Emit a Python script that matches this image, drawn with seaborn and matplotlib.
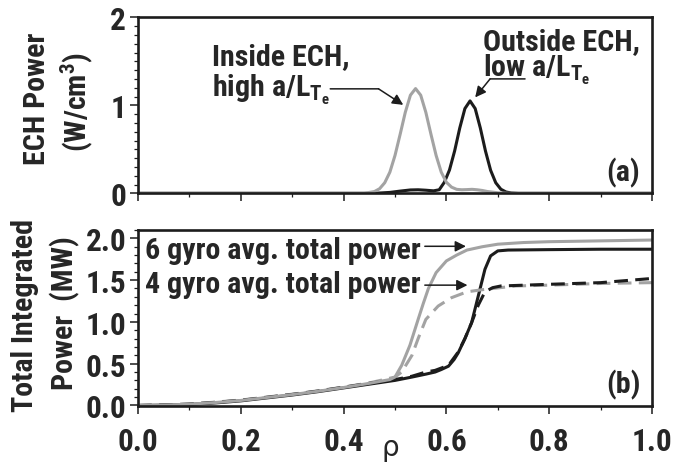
import numpy as np
import pandas as pd
import matplotlib
matplotlib.use("Agg")
import matplotlib.pyplot as plt
import seaborn as sns
from matplotlib import font_manager as fm
from matplotlib.ticker import MultipleLocator, FormatStrFormatter

# ---------------- data ----------------
# (a) ECH power deposition profiles
ech_in_rho = [0, 0.44, 0.46, 0.47, 0.48, 0.49, 0.50, 0.51, 0.52, 0.53, 0.54, 0.55, 0.56,
              0.57, 0.58, 0.59, 0.60, 0.61, 0.62, 0.63, 0.64, 0.65, 0.66, 0.67, 0.68, 0.70, 0.72, 1.0]
ech_in_val = [0, 0, 0.02, 0.052, 0.12, 0.24, 0.43, 0.67, 0.92, 1.115, 1.19, 1.115, 0.92,
              0.67, 0.43, 0.24, 0.125, 0.07, 0.045, 0.04, 0.042, 0.045, 0.04, 0.032, 0.02, 0.006, 0, 0]

ech_out_rho = [0, 0.46, 0.49, 0.51, 0.53, 0.545, 0.56, 0.575, 0.586, 0.596, 0.606, 0.616, 0.626,
               0.636, 0.646, 0.656, 0.666, 0.676, 0.686, 0.696, 0.706, 0.716, 0.726, 0.74, 1.0]
ech_out_val = [0, 0, 0.01, 0.025, 0.038, 0.04, 0.035, 0.028, 0.04, 0.125, 0.265, 0.481, 0.742,
               0.963, 1.05, 0.963, 0.742, 0.481, 0.262, 0.12, 0.046, 0.015, 0.004, 0, 0]

# (b) total integrated power
low_rho = [0, 0.05, 0.1, 0.15, 0.2, 0.25, 0.3, 0.35, 0.4, 0.45]

in6_rho = low_rho + [0.49, 0.50, 0.513, 0.529, 0.545, 0.555, 0.565, 0.58, 0.60, 0.62, 0.64,
                     0.67, 0.70, 0.75, 0.8, 0.9, 1.0]
in6_val = [0, 0.005, 0.015, 0.035, 0.06, 0.095, 0.13, 0.17, 0.215, 0.265,
           0.31, 0.34, 0.48, 0.72, 1.03, 1.22, 1.40, 1.59, 1.73, 1.80, 1.86,
           1.90, 1.93, 1.95, 1.96, 1.97, 1.98]

out6_rho = low_rho + [0.50, 0.533, 0.56, 0.578, 0.59, 0.604, 0.615, 0.623, 0.636, 0.649,
                      0.662, 0.675, 0.686, 0.70, 0.72, 0.8, 0.9, 1.0]
out6_val = [0, 0.004, 0.012, 0.03, 0.055, 0.09, 0.125, 0.165, 0.21, 0.255,
            0.30, 0.34, 0.375, 0.40, 0.43, 0.47, 0.55, 0.63, 0.80, 0.99,
            1.31, 1.63, 1.79, 1.85, 1.86, 1.865, 1.87, 1.87]

in4_rho = low_rho + [0.50, 0.513, 0.533, 0.545, 0.56, 0.584, 0.61, 0.64, 0.675, 0.735,
                     0.8, 0.9, 1.0]
in4_val = [0, 0.006, 0.018, 0.04, 0.065, 0.10, 0.135, 0.175, 0.22, 0.27,
           0.34, 0.40, 0.60, 0.80, 1.03, 1.19, 1.29, 1.36, 1.39, 1.43,
           1.44, 1.46, 1.47]

out4_rho = low_rho + [0.50, 0.533, 0.56, 0.578, 0.604, 0.623, 0.636, 0.649, 0.662, 0.675,
                      0.69, 0.706, 0.8, 0.9, 1.0]
out4_val = [0, 0.006, 0.016, 0.037, 0.062, 0.097, 0.132, 0.172, 0.218, 0.265,
            0.31, 0.35, 0.40, 0.42, 0.48, 0.64, 0.80, 0.99, 1.20, 1.36,
            1.41, 1.43, 1.45, 1.47, 1.52]

xticks = [0.0, 0.2, 0.4, 0.6, 0.8, 1.0]
yticks_a = [0, 1, 2]
yticks_b = [0.0, 0.5, 1.0, 1.5, 2.0]

# ---------------- style ----------------
sns.set_style("ticks")

names = {f.name for f in fm.fontManager.ttflist}
narrow = None
for cand in ["Liberation Sans Narrow", "Roboto Condensed", "DejaVu Sans Condensed",
             "Open Sans Condensed", "Arial Narrow"]:
    if cand in names:
        narrow = cand
        break
if narrow is not None:
    FONT = narrow
    FS = 21.6
    TFS = 22.5
else:
    FONT = "Liberation Sans"
    FS = 17.5
    TFS = 18.5

plt.rcParams["font.family"] = [FONT, "DejaVu Sans"]
plt.rcParams["font.weight"] = "bold"
plt.rcParams["mathtext.fontset"] = "custom"
plt.rcParams["mathtext.rm"] = FONT + ":bold"
plt.rcParams["mathtext.bf"] = FONT + ":bold"
plt.rcParams["mathtext.it"] = FONT + ":bold"

BLACK = "#1c1c1c"
GRAY = "#a3a3a3"
LW = 2.2
DASH = (0, (4.5, 2.4))

fig = plt.figure(figsize=(6.81, 4.64), dpi=100)
ax1 = fig.add_axes([138 / 681, 1 - 194.3 / 464, 514 / 681, 176 / 464])
ax2 = fig.add_axes([138 / 681, 1 - 407.3 / 464, 514 / 681, 176.3 / 464])

# (a)
sns.lineplot(x=ech_out_rho, y=ech_out_val, ax=ax1, color=BLACK, lw=LW, legend=False)
sns.lineplot(x=ech_in_rho, y=ech_in_val, ax=ax1, color=GRAY, lw=LW, legend=False)

# (b)
sns.lineplot(x=out6_rho, y=out6_val, ax=ax2, color=BLACK, lw=LW, legend=False)
sns.lineplot(x=in4_rho, y=in4_val, ax=ax2, color=GRAY, lw=LW, linestyle=DASH, legend=False)
sns.lineplot(x=out4_rho, y=out4_val, ax=ax2, color=BLACK, lw=LW, linestyle=DASH, legend=False)
sns.lineplot(x=in6_rho, y=in6_val, ax=ax2, color=GRAY, lw=LW, legend=False)

for ax in (ax1, ax2):
    ax.set_xlim(0, 1)
    ax.xaxis.set_major_locator(MultipleLocator(0.2))
    ax.xaxis.set_minor_locator(MultipleLocator(0.1))
    ax.set_xticks(xticks)
    for s in ax.spines.values():
        s.set_linewidth(1.9)
        s.set_color(BLACK)
        s.set_visible(True)
    ax.tick_params(which="major", direction="out", length=5.5, width=1.1, color=BLACK,
                   labelsize=TFS, pad=3)
    ax.tick_params(which="minor", direction="out", length=3, width=0.9, color=BLACK)
    ax.set_ylabel("")
    ax.set_xlabel("")

ax1.set_ylim(0, 2)
ax1.set_yticks(yticks_a)
ax1.yaxis.set_minor_locator(MultipleLocator(0.1))
ax1.tick_params(axis="x", labelbottom=False)

ax2.set_ylim(-0.01, 2.1)
ax2.set_yticks(yticks_b)
ax2.yaxis.set_minor_locator(MultipleLocator(0.1))
ax2.yaxis.set_major_formatter(FormatStrFormatter("%.1f"))
ax2.xaxis.set_major_formatter(FormatStrFormatter("%.1f"))
ax2.tick_params(axis="x", which="major", pad=9)

ax2.set_xlabel("ρ", fontsize=20, fontweight="normal", family="DejaVu Sans")
ax2.xaxis.set_label_coords((390 - 138) / 514, (407.3 - 448) / 176.3)
ax2.xaxis.label.set_va("center")

# y labels
fig.text(37 / 681, 1 - 99 / 464, "ECH Power", rotation=90, ha="center", va="center", fontsize=FS)
fig.text(77 / 681, 1 - 102 / 464, "(W/cm$^3$)", rotation=90, ha="center", va="center", fontsize=FS)
fig.text(25 / 681, 1 - 316 / 464, "Total Integrated", rotation=90, ha="center", va="center", fontsize=FS)
fig.text(65 / 681, 1 - 313 / 464, "Power  (MW)", rotation=90, ha="center", va="center", fontsize=FS)

# (a) annotations
sub = r"$\mathrm{L_{T_e}}$"
ax1.text(0.1434, 1.471, "Inside ECH,", ha="left", va="baseline", fontsize=FS)
ax1.text(0.1434, 1.110, "high a/" + sub, ha="left", va="baseline", fontsize=FS)
ax1.text(0.672, 1.642, "Outside ECH,", ha="left", va="baseline", fontsize=FS)
ax1.text(0.672, 1.338, "low a/" + sub, ha="left", va="baseline", fontsize=FS)

arrow = dict(arrowstyle="-|>", color=BLACK, lw=1.1, mutation_scale=16, shrinkA=0, shrinkB=0)
line = dict(arrowstyle="-", color=BLACK, lw=1.1, shrinkA=0, shrinkB=0)
ax1.annotate("", xy=(0.468, 1.187), xytext=(0.374, 1.187), arrowprops=line)
ax1.annotate("", xy=(0.516, 1.005), xytext=(0.468, 1.187), arrowprops=arrow)
ax1.annotate("", xy=(0.685, 1.30), xytext=(0.753, 1.30), arrowprops=line)
ax1.annotate("", xy=(0.656, 1.09), xytext=(0.685, 1.30), arrowprops=arrow)

ax1.text(0.977, 0.143, "(a)", ha="right", va="baseline", fontsize=FS)

# (b) annotations
ax2.text(0.0136, 1.761, "6 gyro avg. total power", ha="left", va="baseline", fontsize=FS)
ax2.text(0.0136, 1.361, "4 gyro avg. total power", ha="left", va="baseline", fontsize=FS)
ax2.annotate("", xy=(0.638, 1.905), xytext=(0.558, 1.905), arrowprops=arrow)
ax2.annotate("", xy=(0.641, 1.44), xytext=(0.558, 1.44), arrowprops=arrow)
ax2.text(0.977, 0.16, "(b)", ha="right", va="baseline", fontsize=FS)

fig.savefig("out.png", dpi=100)
